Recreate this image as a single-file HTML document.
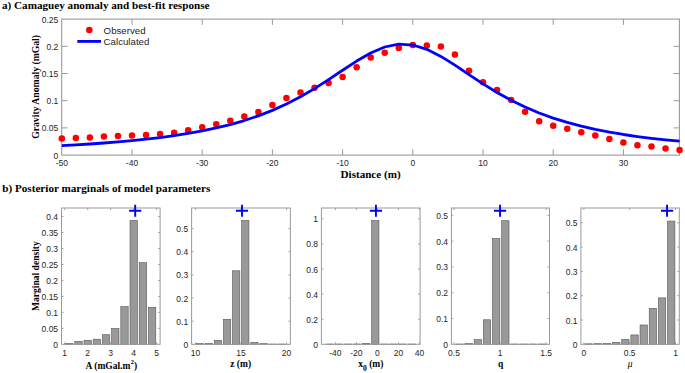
<!DOCTYPE html>
<html><head><meta charset="utf-8"><style>
html,body{margin:0;padding:0;background:#fff;}
svg{display:block;font-family:"Liberation Sans", sans-serif;}
</style></head><body>
<svg width="685" height="373" viewBox="0 0 685 373">
<rect width="685" height="373" fill="#fff"/>
<text x="2" y="9.3" font-family="Liberation Serif, serif" font-weight="bold" font-size="11.15" fill="#000">a) Camaguey anomaly and best-fit response</text>
<text x="2.3" y="192.2" font-family="Liberation Serif, serif" font-weight="bold" font-size="11.15" fill="#000">b) Posterior marginals of model parameters</text>
<rect x="61.7" y="19.1" width="617.7" height="136" fill="#fff" stroke="none"/>
<text x="61.8" y="166.2" text-anchor="middle" font-family="Liberation Sans, sans-serif" font-size="8.5" fill="#262626">-50</text>
<line x1="132" y1="155.1" x2="132" y2="149.3" stroke="#9a9a9a" stroke-width="1"/>
<line x1="132" y1="19.1" x2="132" y2="24.9" stroke="#9a9a9a" stroke-width="1"/>
<text x="132" y="166.2" text-anchor="middle" font-family="Liberation Sans, sans-serif" font-size="8.5" fill="#262626">-40</text>
<line x1="202.2" y1="155.1" x2="202.2" y2="149.3" stroke="#9a9a9a" stroke-width="1"/>
<line x1="202.2" y1="19.1" x2="202.2" y2="24.9" stroke="#9a9a9a" stroke-width="1"/>
<text x="202.2" y="166.2" text-anchor="middle" font-family="Liberation Sans, sans-serif" font-size="8.5" fill="#262626">-30</text>
<line x1="272.4" y1="155.1" x2="272.4" y2="149.3" stroke="#9a9a9a" stroke-width="1"/>
<line x1="272.4" y1="19.1" x2="272.4" y2="24.9" stroke="#9a9a9a" stroke-width="1"/>
<text x="272.4" y="166.2" text-anchor="middle" font-family="Liberation Sans, sans-serif" font-size="8.5" fill="#262626">-20</text>
<line x1="342.6" y1="155.1" x2="342.6" y2="149.3" stroke="#9a9a9a" stroke-width="1"/>
<line x1="342.6" y1="19.1" x2="342.6" y2="24.9" stroke="#9a9a9a" stroke-width="1"/>
<text x="342.6" y="166.2" text-anchor="middle" font-family="Liberation Sans, sans-serif" font-size="8.5" fill="#262626">-10</text>
<line x1="412.8" y1="155.1" x2="412.8" y2="149.3" stroke="#9a9a9a" stroke-width="1"/>
<line x1="412.8" y1="19.1" x2="412.8" y2="24.9" stroke="#9a9a9a" stroke-width="1"/>
<text x="412.8" y="166.2" text-anchor="middle" font-family="Liberation Sans, sans-serif" font-size="8.5" fill="#262626">0</text>
<line x1="483" y1="155.1" x2="483" y2="149.3" stroke="#9a9a9a" stroke-width="1"/>
<line x1="483" y1="19.1" x2="483" y2="24.9" stroke="#9a9a9a" stroke-width="1"/>
<text x="483" y="166.2" text-anchor="middle" font-family="Liberation Sans, sans-serif" font-size="8.5" fill="#262626">10</text>
<line x1="553.2" y1="155.1" x2="553.2" y2="149.3" stroke="#9a9a9a" stroke-width="1"/>
<line x1="553.2" y1="19.1" x2="553.2" y2="24.9" stroke="#9a9a9a" stroke-width="1"/>
<text x="553.2" y="166.2" text-anchor="middle" font-family="Liberation Sans, sans-serif" font-size="8.5" fill="#262626">20</text>
<line x1="623.4" y1="155.1" x2="623.4" y2="149.3" stroke="#9a9a9a" stroke-width="1"/>
<line x1="623.4" y1="19.1" x2="623.4" y2="24.9" stroke="#9a9a9a" stroke-width="1"/>
<text x="623.4" y="166.2" text-anchor="middle" font-family="Liberation Sans, sans-serif" font-size="8.5" fill="#262626">30</text>
<text x="58.3" y="158.6" text-anchor="end" font-family="Liberation Sans, sans-serif" font-size="8.5" fill="#262626">0</text>
<line x1="61.7" y1="127.9" x2="67.5" y2="127.9" stroke="#9a9a9a" stroke-width="1"/>
<line x1="679.4" y1="127.9" x2="673.6" y2="127.9" stroke="#9a9a9a" stroke-width="1"/>
<text x="58.3" y="131.4" text-anchor="end" font-family="Liberation Sans, sans-serif" font-size="8.5" fill="#262626">0.05</text>
<line x1="61.7" y1="100.7" x2="67.5" y2="100.7" stroke="#9a9a9a" stroke-width="1"/>
<line x1="679.4" y1="100.7" x2="673.6" y2="100.7" stroke="#9a9a9a" stroke-width="1"/>
<text x="58.3" y="104.2" text-anchor="end" font-family="Liberation Sans, sans-serif" font-size="8.5" fill="#262626">0.1</text>
<line x1="61.7" y1="73.5" x2="67.5" y2="73.5" stroke="#9a9a9a" stroke-width="1"/>
<line x1="679.4" y1="73.5" x2="673.6" y2="73.5" stroke="#9a9a9a" stroke-width="1"/>
<text x="58.3" y="77" text-anchor="end" font-family="Liberation Sans, sans-serif" font-size="8.5" fill="#262626">0.15</text>
<line x1="61.7" y1="46.3" x2="67.5" y2="46.3" stroke="#9a9a9a" stroke-width="1"/>
<line x1="679.4" y1="46.3" x2="673.6" y2="46.3" stroke="#9a9a9a" stroke-width="1"/>
<text x="58.3" y="49.8" text-anchor="end" font-family="Liberation Sans, sans-serif" font-size="8.5" fill="#262626">0.2</text>
<text x="58.3" y="22.6" text-anchor="end" font-family="Liberation Sans, sans-serif" font-size="8.5" fill="#262626">0.25</text>
<rect x="61.7" y="19.1" width="617.7" height="136" fill="none" stroke="#9a9a9a" stroke-width="1.1"/>
<circle cx="61.8" cy="138.4" r="3.25" fill="#ff0000"/>
<circle cx="75.84" cy="138.0" r="3.25" fill="#ff0000"/>
<circle cx="89.88" cy="137.5" r="3.25" fill="#ff0000"/>
<circle cx="103.92" cy="136.6" r="3.25" fill="#ff0000"/>
<circle cx="117.96" cy="136.1" r="3.25" fill="#ff0000"/>
<circle cx="132" cy="135.6" r="3.25" fill="#ff0000"/>
<circle cx="146.04" cy="134.9" r="3.25" fill="#ff0000"/>
<circle cx="160.08" cy="134.0" r="3.25" fill="#ff0000"/>
<circle cx="174.12" cy="132.8" r="3.25" fill="#ff0000"/>
<circle cx="188.16" cy="130.3" r="3.25" fill="#ff0000"/>
<circle cx="202.2" cy="127.3" r="3.25" fill="#ff0000"/>
<circle cx="216.24" cy="124.3" r="3.25" fill="#ff0000"/>
<circle cx="230.28" cy="120.8" r="3.25" fill="#ff0000"/>
<circle cx="244.32" cy="116.6" r="3.25" fill="#ff0000"/>
<circle cx="258.36" cy="111.9" r="3.25" fill="#ff0000"/>
<circle cx="272.4" cy="105.1" r="3.25" fill="#ff0000"/>
<circle cx="286.44" cy="98.1" r="3.25" fill="#ff0000"/>
<circle cx="300.48" cy="92.6" r="3.25" fill="#ff0000"/>
<circle cx="314.52" cy="87.8" r="3.25" fill="#ff0000"/>
<circle cx="328.56" cy="82.9" r="3.25" fill="#ff0000"/>
<circle cx="342.6" cy="77.1" r="3.25" fill="#ff0000"/>
<circle cx="356.64" cy="67.3" r="3.25" fill="#ff0000"/>
<circle cx="370.68" cy="57.4" r="3.25" fill="#ff0000"/>
<circle cx="384.72" cy="52.7" r="3.25" fill="#ff0000"/>
<circle cx="398.76" cy="47.9" r="3.25" fill="#ff0000"/>
<circle cx="412.8" cy="44.9" r="3.25" fill="#ff0000"/>
<circle cx="426.84" cy="45.6" r="3.25" fill="#ff0000"/>
<circle cx="440.88" cy="46.5" r="3.25" fill="#ff0000"/>
<circle cx="454.92" cy="54.5" r="3.25" fill="#ff0000"/>
<circle cx="468.96" cy="70.8" r="3.25" fill="#ff0000"/>
<circle cx="483" cy="82.2" r="3.25" fill="#ff0000"/>
<circle cx="497.04" cy="90.1" r="3.25" fill="#ff0000"/>
<circle cx="511.08" cy="99.9" r="3.25" fill="#ff0000"/>
<circle cx="525.12" cy="111.7" r="3.25" fill="#ff0000"/>
<circle cx="539.16" cy="121.2" r="3.25" fill="#ff0000"/>
<circle cx="553.2" cy="125.8" r="3.25" fill="#ff0000"/>
<circle cx="567.24" cy="128.8" r="3.25" fill="#ff0000"/>
<circle cx="581.28" cy="132.2" r="3.25" fill="#ff0000"/>
<circle cx="595.32" cy="135.5" r="3.25" fill="#ff0000"/>
<circle cx="609.36" cy="139.0" r="3.25" fill="#ff0000"/>
<circle cx="623.4" cy="142.4" r="3.25" fill="#ff0000"/>
<circle cx="637.44" cy="145.2" r="3.25" fill="#ff0000"/>
<circle cx="651.48" cy="146.6" r="3.25" fill="#ff0000"/>
<circle cx="665.52" cy="148.4" r="3.25" fill="#ff0000"/>
<circle cx="679.56" cy="149.9" r="3.25" fill="#ff0000"/>
<polyline points="61.8,145.67 75.84,144.89 89.88,144.01 103.92,143.02 117.96,141.91 132,140.64 146.04,139.19 160.08,137.54 174.12,135.64 188.16,133.45 202.2,130.92 216.24,127.97 230.28,124.54 244.32,120.53 258.36,115.85 272.4,110.4 286.44,104.08 300.48,96.82 314.52,88.65 328.56,79.68 342.6,70.28 356.64,61.06 370.68,52.94 384.72,47 398.76,44.19 412.8,45.03 426.84,49.36 440.88,56.43 454.92,65.17 468.96,74.57 483,83.83 497.04,92.47 511.08,100.24 525.12,107.06 539.16,112.98 553.2,118.07 567.24,122.43 581.28,126.16 595.32,129.36 609.36,132.11 623.4,134.49 637.44,136.54 651.48,138.32 665.52,139.87 679.56,141.23" fill="none" stroke="#0000ff" stroke-width="2.8" stroke-linejoin="round"/>
<circle cx="89.3" cy="30.0" r="3.25" fill="#ff0000"/>
<line x1="77.3" y1="41.4" x2="101" y2="41.4" stroke="#0000ff" stroke-width="2.8"/>
<text x="103.6" y="33.8" font-family="Liberation Sans, sans-serif" font-size="9.7" fill="#262626">Observed</text>
<text x="103.6" y="45.1" font-family="Liberation Sans, sans-serif" font-size="9.7" fill="#262626">Calculated</text>
<text x="370.6" y="178.3" text-anchor="middle" font-family="Liberation Serif, serif" font-weight="bold" font-size="11.1" fill="#000">Distance (m)</text>
<text transform="translate(39.0,86.9) rotate(-90)" x="0" y="0" text-anchor="middle" font-family="Liberation Serif, serif" font-weight="bold" font-size="9.7" fill="#000">Gravity Anomaly (mGal)</text>
<text transform="translate(39.2,276.1) rotate(-90)" x="0" y="0" text-anchor="middle" font-family="Liberation Serif, serif" font-weight="bold" font-size="9.55" fill="#000">Marginal density</text>
<rect x="61.5" y="208.0" width="98.6" height="136.3" fill="#fff" stroke="none"/>
<text x="58.1" y="347.8" text-anchor="end" font-family="Liberation Sans, sans-serif" font-size="8.5" fill="#262626">0</text>
<line x1="61.5" y1="328.34" x2="63.5" y2="328.34" stroke="#9a9a9a" stroke-width="0.9"/>
<line x1="160.1" y1="328.34" x2="158.1" y2="328.34" stroke="#9a9a9a" stroke-width="0.9"/>
<text x="58.1" y="331.84" text-anchor="end" font-family="Liberation Sans, sans-serif" font-size="8.5" fill="#262626">0.05</text>
<line x1="61.5" y1="312.37" x2="63.5" y2="312.37" stroke="#9a9a9a" stroke-width="0.9"/>
<line x1="160.1" y1="312.37" x2="158.1" y2="312.37" stroke="#9a9a9a" stroke-width="0.9"/>
<text x="58.1" y="315.87" text-anchor="end" font-family="Liberation Sans, sans-serif" font-size="8.5" fill="#262626">0.1</text>
<line x1="61.5" y1="296.41" x2="63.5" y2="296.41" stroke="#9a9a9a" stroke-width="0.9"/>
<line x1="160.1" y1="296.41" x2="158.1" y2="296.41" stroke="#9a9a9a" stroke-width="0.9"/>
<text x="58.1" y="299.91" text-anchor="end" font-family="Liberation Sans, sans-serif" font-size="8.5" fill="#262626">0.15</text>
<line x1="61.5" y1="280.44" x2="63.5" y2="280.44" stroke="#9a9a9a" stroke-width="0.9"/>
<line x1="160.1" y1="280.44" x2="158.1" y2="280.44" stroke="#9a9a9a" stroke-width="0.9"/>
<text x="58.1" y="283.94" text-anchor="end" font-family="Liberation Sans, sans-serif" font-size="8.5" fill="#262626">0.2</text>
<line x1="61.5" y1="264.48" x2="63.5" y2="264.48" stroke="#9a9a9a" stroke-width="0.9"/>
<line x1="160.1" y1="264.48" x2="158.1" y2="264.48" stroke="#9a9a9a" stroke-width="0.9"/>
<text x="58.1" y="267.98" text-anchor="end" font-family="Liberation Sans, sans-serif" font-size="8.5" fill="#262626">0.25</text>
<line x1="61.5" y1="248.51" x2="63.5" y2="248.51" stroke="#9a9a9a" stroke-width="0.9"/>
<line x1="160.1" y1="248.51" x2="158.1" y2="248.51" stroke="#9a9a9a" stroke-width="0.9"/>
<text x="58.1" y="252.01" text-anchor="end" font-family="Liberation Sans, sans-serif" font-size="8.5" fill="#262626">0.3</text>
<line x1="61.5" y1="232.55" x2="63.5" y2="232.55" stroke="#9a9a9a" stroke-width="0.9"/>
<line x1="160.1" y1="232.55" x2="158.1" y2="232.55" stroke="#9a9a9a" stroke-width="0.9"/>
<text x="58.1" y="236.05" text-anchor="end" font-family="Liberation Sans, sans-serif" font-size="8.5" fill="#262626">0.35</text>
<line x1="61.5" y1="216.58" x2="63.5" y2="216.58" stroke="#9a9a9a" stroke-width="0.9"/>
<line x1="160.1" y1="216.58" x2="158.1" y2="216.58" stroke="#9a9a9a" stroke-width="0.9"/>
<text x="58.1" y="220.08" text-anchor="end" font-family="Liberation Sans, sans-serif" font-size="8.5" fill="#262626">0.4</text>
<line x1="64.7" y1="344.3" x2="64.7" y2="342.3" stroke="#9a9a9a" stroke-width="0.9"/>
<line x1="64.7" y1="208.0" x2="64.7" y2="210" stroke="#9a9a9a" stroke-width="0.9"/>
<text x="64.7" y="355.9" text-anchor="middle" font-family="Liberation Sans, sans-serif" font-size="8.5" fill="#262626">1</text>
<line x1="87.7" y1="344.3" x2="87.7" y2="342.3" stroke="#9a9a9a" stroke-width="0.9"/>
<line x1="87.7" y1="208.0" x2="87.7" y2="210" stroke="#9a9a9a" stroke-width="0.9"/>
<text x="87.7" y="355.9" text-anchor="middle" font-family="Liberation Sans, sans-serif" font-size="8.5" fill="#262626">2</text>
<line x1="110.7" y1="344.3" x2="110.7" y2="342.3" stroke="#9a9a9a" stroke-width="0.9"/>
<line x1="110.7" y1="208.0" x2="110.7" y2="210" stroke="#9a9a9a" stroke-width="0.9"/>
<text x="110.7" y="355.9" text-anchor="middle" font-family="Liberation Sans, sans-serif" font-size="8.5" fill="#262626">3</text>
<line x1="133.7" y1="344.3" x2="133.7" y2="342.3" stroke="#9a9a9a" stroke-width="0.9"/>
<line x1="133.7" y1="208.0" x2="133.7" y2="210" stroke="#9a9a9a" stroke-width="0.9"/>
<text x="133.7" y="355.9" text-anchor="middle" font-family="Liberation Sans, sans-serif" font-size="8.5" fill="#262626">4</text>
<line x1="156.7" y1="344.3" x2="156.7" y2="342.3" stroke="#9a9a9a" stroke-width="0.9"/>
<line x1="156.7" y1="208.0" x2="156.7" y2="210" stroke="#9a9a9a" stroke-width="0.9"/>
<text x="156.7" y="355.9" text-anchor="middle" font-family="Liberation Sans, sans-serif" font-size="8.5" fill="#262626">5</text>
<rect x="65.62" y="343.34" width="7.36" height="0.96" fill="#999" stroke="#555" stroke-width="0.6"/>
<rect x="74.82" y="341.43" width="7.36" height="2.87" fill="#999" stroke="#555" stroke-width="0.6"/>
<rect x="84.02" y="340.31" width="7.36" height="3.99" fill="#999" stroke="#555" stroke-width="0.6"/>
<rect x="93.22" y="339.19" width="7.36" height="5.11" fill="#999" stroke="#555" stroke-width="0.6"/>
<rect x="102.42" y="334.72" width="7.36" height="9.58" fill="#999" stroke="#555" stroke-width="0.6"/>
<rect x="111.62" y="328.49" width="7.36" height="15.81" fill="#999" stroke="#555" stroke-width="0.6"/>
<rect x="120.82" y="306.62" width="7.36" height="37.68" fill="#999" stroke="#555" stroke-width="0.6"/>
<rect x="130.02" y="220.41" width="7.36" height="123.89" fill="#999" stroke="#555" stroke-width="0.6"/>
<rect x="139.22" y="262.69" width="7.36" height="81.61" fill="#999" stroke="#555" stroke-width="0.6"/>
<rect x="148.42" y="307.26" width="7.36" height="37.04" fill="#999" stroke="#555" stroke-width="0.6"/>
<rect x="61.5" y="208.0" width="98.6" height="136.3" fill="none" stroke="#9a9a9a" stroke-width="1.0"/>
<path d="M129.1,210.8H141.3M135.2,204.8V216.8" stroke="#0000ff" stroke-width="1.9" fill="none"/>
<text x="111.3" y="369.2" text-anchor="middle" font-family="Liberation Serif, serif" font-weight="bold" font-size="9.5" fill="#000">A (mGal.m<tspan dy="-4.8" font-size="7">2</tspan><tspan dy="4.8">)</tspan></text>
<rect x="191.6" y="208.0" width="98.8" height="136.3" fill="#fff" stroke="none"/>
<text x="188.2" y="347.8" text-anchor="end" font-family="Liberation Sans, sans-serif" font-size="8.5" fill="#262626">0</text>
<line x1="191.6" y1="321.15" x2="193.6" y2="321.15" stroke="#9a9a9a" stroke-width="0.9"/>
<line x1="290.4" y1="321.15" x2="288.4" y2="321.15" stroke="#9a9a9a" stroke-width="0.9"/>
<text x="188.2" y="324.65" text-anchor="end" font-family="Liberation Sans, sans-serif" font-size="8.5" fill="#262626">0.1</text>
<line x1="191.6" y1="298" x2="193.6" y2="298" stroke="#9a9a9a" stroke-width="0.9"/>
<line x1="290.4" y1="298" x2="288.4" y2="298" stroke="#9a9a9a" stroke-width="0.9"/>
<text x="188.2" y="301.5" text-anchor="end" font-family="Liberation Sans, sans-serif" font-size="8.5" fill="#262626">0.2</text>
<line x1="191.6" y1="274.85" x2="193.6" y2="274.85" stroke="#9a9a9a" stroke-width="0.9"/>
<line x1="290.4" y1="274.85" x2="288.4" y2="274.85" stroke="#9a9a9a" stroke-width="0.9"/>
<text x="188.2" y="278.35" text-anchor="end" font-family="Liberation Sans, sans-serif" font-size="8.5" fill="#262626">0.3</text>
<line x1="191.6" y1="251.7" x2="193.6" y2="251.7" stroke="#9a9a9a" stroke-width="0.9"/>
<line x1="290.4" y1="251.7" x2="288.4" y2="251.7" stroke="#9a9a9a" stroke-width="0.9"/>
<text x="188.2" y="255.2" text-anchor="end" font-family="Liberation Sans, sans-serif" font-size="8.5" fill="#262626">0.4</text>
<line x1="191.6" y1="228.55" x2="193.6" y2="228.55" stroke="#9a9a9a" stroke-width="0.9"/>
<line x1="290.4" y1="228.55" x2="288.4" y2="228.55" stroke="#9a9a9a" stroke-width="0.9"/>
<text x="188.2" y="232.05" text-anchor="end" font-family="Liberation Sans, sans-serif" font-size="8.5" fill="#262626">0.5</text>
<line x1="195.6" y1="344.3" x2="195.6" y2="342.3" stroke="#9a9a9a" stroke-width="0.9"/>
<line x1="195.6" y1="208.0" x2="195.6" y2="210" stroke="#9a9a9a" stroke-width="0.9"/>
<text x="195.6" y="355.9" text-anchor="middle" font-family="Liberation Sans, sans-serif" font-size="8.5" fill="#262626">10</text>
<line x1="241.1" y1="344.3" x2="241.1" y2="342.3" stroke="#9a9a9a" stroke-width="0.9"/>
<line x1="241.1" y1="208.0" x2="241.1" y2="210" stroke="#9a9a9a" stroke-width="0.9"/>
<text x="241.1" y="355.9" text-anchor="middle" font-family="Liberation Sans, sans-serif" font-size="8.5" fill="#262626">15</text>
<line x1="286.6" y1="344.3" x2="286.6" y2="342.3" stroke="#9a9a9a" stroke-width="0.9"/>
<line x1="286.6" y1="208.0" x2="286.6" y2="210" stroke="#9a9a9a" stroke-width="0.9"/>
<text x="286.6" y="355.9" text-anchor="middle" font-family="Liberation Sans, sans-serif" font-size="8.5" fill="#262626">20</text>
<rect x="196.16" y="343.61" width="7.28" height="0.69" fill="#999" stroke="#555" stroke-width="0.6"/>
<rect x="205.26" y="343.37" width="7.28" height="0.93" fill="#999" stroke="#555" stroke-width="0.6"/>
<rect x="214.36" y="340.36" width="7.28" height="3.94" fill="#999" stroke="#555" stroke-width="0.6"/>
<rect x="223.46" y="319.3" width="7.28" height="25" fill="#999" stroke="#555" stroke-width="0.6"/>
<rect x="232.56" y="270.8" width="7.28" height="73.5" fill="#999" stroke="#555" stroke-width="0.6"/>
<rect x="241.66" y="220.45" width="7.28" height="123.85" fill="#999" stroke="#555" stroke-width="0.6"/>
<rect x="250.76" y="342.45" width="7.28" height="1.85" fill="#999" stroke="#555" stroke-width="0.6"/>
<rect x="259.86" y="343.61" width="7.28" height="0.69" fill="#999" stroke="#555" stroke-width="0.6"/>
<rect x="268.96" y="344.07" width="7.28" height="0.23" fill="#999" stroke="#555" stroke-width="0.6"/>
<rect x="278.06" y="344.07" width="7.28" height="0.23" fill="#999" stroke="#555" stroke-width="0.6"/>
<rect x="191.6" y="208.0" width="98.8" height="136.3" fill="none" stroke="#9a9a9a" stroke-width="1.0"/>
<path d="M235.9,210.8H248.1M242.0,204.8V216.8" stroke="#0000ff" stroke-width="1.9" fill="none"/>
<text x="240.7" y="367.4" text-anchor="middle" font-family="Liberation Serif, serif" font-weight="bold" font-size="9.5" fill="#000">z (m)</text>
<rect x="321.4" y="208.0" width="98.7" height="136.3" fill="#fff" stroke="none"/>
<text x="318" y="347.8" text-anchor="end" font-family="Liberation Sans, sans-serif" font-size="8.5" fill="#262626">0</text>
<line x1="321.4" y1="319.2" x2="323.4" y2="319.2" stroke="#9a9a9a" stroke-width="0.9"/>
<line x1="420.1" y1="319.2" x2="418.1" y2="319.2" stroke="#9a9a9a" stroke-width="0.9"/>
<text x="318" y="322.7" text-anchor="end" font-family="Liberation Sans, sans-serif" font-size="8.5" fill="#262626">0.2</text>
<line x1="321.4" y1="294.1" x2="323.4" y2="294.1" stroke="#9a9a9a" stroke-width="0.9"/>
<line x1="420.1" y1="294.1" x2="418.1" y2="294.1" stroke="#9a9a9a" stroke-width="0.9"/>
<text x="318" y="297.6" text-anchor="end" font-family="Liberation Sans, sans-serif" font-size="8.5" fill="#262626">0.4</text>
<line x1="321.4" y1="269" x2="323.4" y2="269" stroke="#9a9a9a" stroke-width="0.9"/>
<line x1="420.1" y1="269" x2="418.1" y2="269" stroke="#9a9a9a" stroke-width="0.9"/>
<text x="318" y="272.5" text-anchor="end" font-family="Liberation Sans, sans-serif" font-size="8.5" fill="#262626">0.6</text>
<line x1="321.4" y1="243.9" x2="323.4" y2="243.9" stroke="#9a9a9a" stroke-width="0.9"/>
<line x1="420.1" y1="243.9" x2="418.1" y2="243.9" stroke="#9a9a9a" stroke-width="0.9"/>
<text x="318" y="247.4" text-anchor="end" font-family="Liberation Sans, sans-serif" font-size="8.5" fill="#262626">0.8</text>
<line x1="321.4" y1="218.8" x2="323.4" y2="218.8" stroke="#9a9a9a" stroke-width="0.9"/>
<line x1="420.1" y1="218.8" x2="418.1" y2="218.8" stroke="#9a9a9a" stroke-width="0.9"/>
<text x="318" y="222.3" text-anchor="end" font-family="Liberation Sans, sans-serif" font-size="8.5" fill="#262626">1</text>
<line x1="335.4" y1="344.3" x2="335.4" y2="342.3" stroke="#9a9a9a" stroke-width="0.9"/>
<line x1="335.4" y1="208.0" x2="335.4" y2="210" stroke="#9a9a9a" stroke-width="0.9"/>
<text x="335.4" y="355.9" text-anchor="middle" font-family="Liberation Sans, sans-serif" font-size="8.5" fill="#262626">-40</text>
<line x1="356.4" y1="344.3" x2="356.4" y2="342.3" stroke="#9a9a9a" stroke-width="0.9"/>
<line x1="356.4" y1="208.0" x2="356.4" y2="210" stroke="#9a9a9a" stroke-width="0.9"/>
<text x="356.4" y="355.9" text-anchor="middle" font-family="Liberation Sans, sans-serif" font-size="8.5" fill="#262626">-20</text>
<line x1="377.4" y1="344.3" x2="377.4" y2="342.3" stroke="#9a9a9a" stroke-width="0.9"/>
<line x1="377.4" y1="208.0" x2="377.4" y2="210" stroke="#9a9a9a" stroke-width="0.9"/>
<text x="377.4" y="355.9" text-anchor="middle" font-family="Liberation Sans, sans-serif" font-size="8.5" fill="#262626">0</text>
<line x1="398.4" y1="344.3" x2="398.4" y2="342.3" stroke="#9a9a9a" stroke-width="0.9"/>
<line x1="398.4" y1="208.0" x2="398.4" y2="210" stroke="#9a9a9a" stroke-width="0.9"/>
<text x="398.4" y="355.9" text-anchor="middle" font-family="Liberation Sans, sans-serif" font-size="8.5" fill="#262626">20</text>
<line x1="419.4" y1="344.3" x2="419.4" y2="342.3" stroke="#9a9a9a" stroke-width="0.9"/>
<line x1="419.4" y1="208.0" x2="419.4" y2="210" stroke="#9a9a9a" stroke-width="0.9"/>
<text x="419.4" y="355.9" text-anchor="middle" font-family="Liberation Sans, sans-serif" font-size="8.5" fill="#262626">40</text>
<rect x="326.16" y="344.05" width="7.28" height="0.25" fill="#999" stroke="#555" stroke-width="0.6"/>
<rect x="335.26" y="344.05" width="7.28" height="0.25" fill="#999" stroke="#555" stroke-width="0.6"/>
<rect x="344.36" y="344.05" width="7.28" height="0.25" fill="#999" stroke="#555" stroke-width="0.6"/>
<rect x="353.46" y="344.05" width="7.28" height="0.25" fill="#999" stroke="#555" stroke-width="0.6"/>
<rect x="362.56" y="343.3" width="7.28" height="1" fill="#999" stroke="#555" stroke-width="0.6"/>
<rect x="371.66" y="220.56" width="7.28" height="123.74" fill="#999" stroke="#555" stroke-width="0.6"/>
<rect x="380.76" y="344.05" width="7.28" height="0.25" fill="#999" stroke="#555" stroke-width="0.6"/>
<rect x="389.86" y="344.05" width="7.28" height="0.25" fill="#999" stroke="#555" stroke-width="0.6"/>
<rect x="398.96" y="344.05" width="7.28" height="0.25" fill="#999" stroke="#555" stroke-width="0.6"/>
<rect x="408.06" y="344.05" width="7.28" height="0.25" fill="#999" stroke="#555" stroke-width="0.6"/>
<rect x="321.4" y="208.0" width="98.7" height="136.3" fill="none" stroke="#9a9a9a" stroke-width="1.0"/>
<path d="M369.85,210.8H382.05M375.95,204.8V216.8" stroke="#0000ff" stroke-width="1.9" fill="none"/>
<text x="370.8" y="367.2" text-anchor="middle" font-family="Liberation Serif, serif" font-weight="bold" font-size="9.5" fill="#000">x<tspan dy="4.2" font-size="7.6">0</tspan><tspan dy="-4.2"> (m)</tspan></text>
<rect x="451.4" y="208.0" width="98.1" height="136.3" fill="#fff" stroke="none"/>
<text x="448" y="347.8" text-anchor="end" font-family="Liberation Sans, sans-serif" font-size="8.5" fill="#262626">0</text>
<line x1="451.4" y1="318.5" x2="453.4" y2="318.5" stroke="#9a9a9a" stroke-width="0.9"/>
<line x1="549.5" y1="318.5" x2="547.5" y2="318.5" stroke="#9a9a9a" stroke-width="0.9"/>
<text x="448" y="322" text-anchor="end" font-family="Liberation Sans, sans-serif" font-size="8.5" fill="#262626">0.1</text>
<line x1="451.4" y1="292.7" x2="453.4" y2="292.7" stroke="#9a9a9a" stroke-width="0.9"/>
<line x1="549.5" y1="292.7" x2="547.5" y2="292.7" stroke="#9a9a9a" stroke-width="0.9"/>
<text x="448" y="296.2" text-anchor="end" font-family="Liberation Sans, sans-serif" font-size="8.5" fill="#262626">0.2</text>
<line x1="451.4" y1="266.9" x2="453.4" y2="266.9" stroke="#9a9a9a" stroke-width="0.9"/>
<line x1="549.5" y1="266.9" x2="547.5" y2="266.9" stroke="#9a9a9a" stroke-width="0.9"/>
<text x="448" y="270.4" text-anchor="end" font-family="Liberation Sans, sans-serif" font-size="8.5" fill="#262626">0.3</text>
<line x1="451.4" y1="241.1" x2="453.4" y2="241.1" stroke="#9a9a9a" stroke-width="0.9"/>
<line x1="549.5" y1="241.1" x2="547.5" y2="241.1" stroke="#9a9a9a" stroke-width="0.9"/>
<text x="448" y="244.6" text-anchor="end" font-family="Liberation Sans, sans-serif" font-size="8.5" fill="#262626">0.4</text>
<line x1="451.4" y1="215.3" x2="453.4" y2="215.3" stroke="#9a9a9a" stroke-width="0.9"/>
<line x1="549.5" y1="215.3" x2="547.5" y2="215.3" stroke="#9a9a9a" stroke-width="0.9"/>
<text x="448" y="218.8" text-anchor="end" font-family="Liberation Sans, sans-serif" font-size="8.5" fill="#262626">0.5</text>
<line x1="454" y1="344.3" x2="454" y2="342.3" stroke="#9a9a9a" stroke-width="0.9"/>
<line x1="454" y1="208.0" x2="454" y2="210" stroke="#9a9a9a" stroke-width="0.9"/>
<text x="454" y="355.9" text-anchor="middle" font-family="Liberation Sans, sans-serif" font-size="8.5" fill="#262626">0.5</text>
<line x1="500" y1="344.3" x2="500" y2="342.3" stroke="#9a9a9a" stroke-width="0.9"/>
<line x1="500" y1="208.0" x2="500" y2="210" stroke="#9a9a9a" stroke-width="0.9"/>
<text x="500" y="355.9" text-anchor="middle" font-family="Liberation Sans, sans-serif" font-size="8.5" fill="#262626">1</text>
<line x1="546.2" y1="344.3" x2="546.2" y2="342.3" stroke="#9a9a9a" stroke-width="0.9"/>
<line x1="546.2" y1="208.0" x2="546.2" y2="210" stroke="#9a9a9a" stroke-width="0.9"/>
<text x="546.2" y="355.9" text-anchor="middle" font-family="Liberation Sans, sans-serif" font-size="8.5" fill="#262626">1.5</text>
<rect x="455.83" y="344.04" width="7.34" height="0.26" fill="#999" stroke="#555" stroke-width="0.6"/>
<rect x="465" y="343.53" width="7.34" height="0.77" fill="#999" stroke="#555" stroke-width="0.6"/>
<rect x="474.17" y="339.66" width="7.34" height="4.64" fill="#999" stroke="#555" stroke-width="0.6"/>
<rect x="483.34" y="319.79" width="7.34" height="24.51" fill="#999" stroke="#555" stroke-width="0.6"/>
<rect x="492.51" y="238.52" width="7.34" height="105.78" fill="#999" stroke="#555" stroke-width="0.6"/>
<rect x="501.68" y="220.72" width="7.34" height="123.58" fill="#999" stroke="#555" stroke-width="0.6"/>
<rect x="510.85" y="344.04" width="7.34" height="0.26" fill="#999" stroke="#555" stroke-width="0.6"/>
<rect x="520.02" y="344.04" width="7.34" height="0.26" fill="#999" stroke="#555" stroke-width="0.6"/>
<rect x="529.19" y="344.04" width="7.34" height="0.26" fill="#999" stroke="#555" stroke-width="0.6"/>
<rect x="538.36" y="344.04" width="7.34" height="0.26" fill="#999" stroke="#555" stroke-width="0.6"/>
<rect x="451.4" y="208.0" width="98.1" height="136.3" fill="none" stroke="#9a9a9a" stroke-width="1.0"/>
<path d="M493.95,210.8H506.15M500.05,204.8V216.8" stroke="#0000ff" stroke-width="1.9" fill="none"/>
<text x="500.6" y="367.4" text-anchor="middle" font-family="Liberation Serif, serif" font-weight="bold" font-size="9.5" fill="#000">q</text>
<rect x="580.9" y="208.0" width="98.4" height="136.3" fill="#fff" stroke="none"/>
<text x="577.5" y="347.8" text-anchor="end" font-family="Liberation Sans, sans-serif" font-size="8.5" fill="#262626">0</text>
<line x1="580.9" y1="320" x2="582.9" y2="320" stroke="#9a9a9a" stroke-width="0.9"/>
<line x1="679.3" y1="320" x2="677.3" y2="320" stroke="#9a9a9a" stroke-width="0.9"/>
<text x="577.5" y="323.5" text-anchor="end" font-family="Liberation Sans, sans-serif" font-size="8.5" fill="#262626">0.1</text>
<line x1="580.9" y1="295.7" x2="582.9" y2="295.7" stroke="#9a9a9a" stroke-width="0.9"/>
<line x1="679.3" y1="295.7" x2="677.3" y2="295.7" stroke="#9a9a9a" stroke-width="0.9"/>
<text x="577.5" y="299.2" text-anchor="end" font-family="Liberation Sans, sans-serif" font-size="8.5" fill="#262626">0.2</text>
<line x1="580.9" y1="271.4" x2="582.9" y2="271.4" stroke="#9a9a9a" stroke-width="0.9"/>
<line x1="679.3" y1="271.4" x2="677.3" y2="271.4" stroke="#9a9a9a" stroke-width="0.9"/>
<text x="577.5" y="274.9" text-anchor="end" font-family="Liberation Sans, sans-serif" font-size="8.5" fill="#262626">0.3</text>
<line x1="580.9" y1="247.1" x2="582.9" y2="247.1" stroke="#9a9a9a" stroke-width="0.9"/>
<line x1="679.3" y1="247.1" x2="677.3" y2="247.1" stroke="#9a9a9a" stroke-width="0.9"/>
<text x="577.5" y="250.6" text-anchor="end" font-family="Liberation Sans, sans-serif" font-size="8.5" fill="#262626">0.4</text>
<line x1="580.9" y1="222.8" x2="582.9" y2="222.8" stroke="#9a9a9a" stroke-width="0.9"/>
<line x1="679.3" y1="222.8" x2="677.3" y2="222.8" stroke="#9a9a9a" stroke-width="0.9"/>
<text x="577.5" y="226.3" text-anchor="end" font-family="Liberation Sans, sans-serif" font-size="8.5" fill="#262626">0.5</text>
<line x1="583.9" y1="344.3" x2="583.9" y2="342.3" stroke="#9a9a9a" stroke-width="0.9"/>
<line x1="583.9" y1="208.0" x2="583.9" y2="210" stroke="#9a9a9a" stroke-width="0.9"/>
<text x="583.9" y="355.9" text-anchor="middle" font-family="Liberation Sans, sans-serif" font-size="8.5" fill="#262626">0</text>
<line x1="629.7" y1="344.3" x2="629.7" y2="342.3" stroke="#9a9a9a" stroke-width="0.9"/>
<line x1="629.7" y1="208.0" x2="629.7" y2="210" stroke="#9a9a9a" stroke-width="0.9"/>
<text x="629.7" y="355.9" text-anchor="middle" font-family="Liberation Sans, sans-serif" font-size="8.5" fill="#262626">0.5</text>
<line x1="675.5" y1="344.3" x2="675.5" y2="342.3" stroke="#9a9a9a" stroke-width="0.9"/>
<line x1="675.5" y1="208.0" x2="675.5" y2="210" stroke="#9a9a9a" stroke-width="0.9"/>
<text x="675.5" y="355.9" text-anchor="middle" font-family="Liberation Sans, sans-serif" font-size="8.5" fill="#262626">1</text>
<rect x="585.03" y="343.81" width="7.34" height="0.49" fill="#999" stroke="#555" stroke-width="0.6"/>
<rect x="594.2" y="343.57" width="7.34" height="0.73" fill="#999" stroke="#555" stroke-width="0.6"/>
<rect x="603.37" y="343.33" width="7.34" height="0.97" fill="#999" stroke="#555" stroke-width="0.6"/>
<rect x="612.54" y="342.36" width="7.34" height="1.94" fill="#999" stroke="#555" stroke-width="0.6"/>
<rect x="621.71" y="339.44" width="7.34" height="4.86" fill="#999" stroke="#555" stroke-width="0.6"/>
<rect x="630.88" y="334.94" width="7.34" height="9.36" fill="#999" stroke="#555" stroke-width="0.6"/>
<rect x="640.05" y="324.98" width="7.34" height="19.32" fill="#999" stroke="#555" stroke-width="0.6"/>
<rect x="649.22" y="308.34" width="7.34" height="35.96" fill="#999" stroke="#555" stroke-width="0.6"/>
<rect x="658.39" y="297.89" width="7.34" height="46.41" fill="#999" stroke="#555" stroke-width="0.6"/>
<rect x="667.56" y="221.1" width="7.34" height="123.2" fill="#999" stroke="#555" stroke-width="0.6"/>
<rect x="580.9" y="208.0" width="98.4" height="136.3" fill="none" stroke="#9a9a9a" stroke-width="1.0"/>
<path d="M660.95,210.8H673.15M667.05,204.8V216.8" stroke="#0000ff" stroke-width="1.9" fill="none"/>
<text x="630.1" y="366.6" text-anchor="middle" font-family="Liberation Serif, serif" font-weight="bold" font-size="9.5" fill="#000"><tspan font-style="italic" font-weight="normal">μ</tspan></text>
</svg>
</body></html>
